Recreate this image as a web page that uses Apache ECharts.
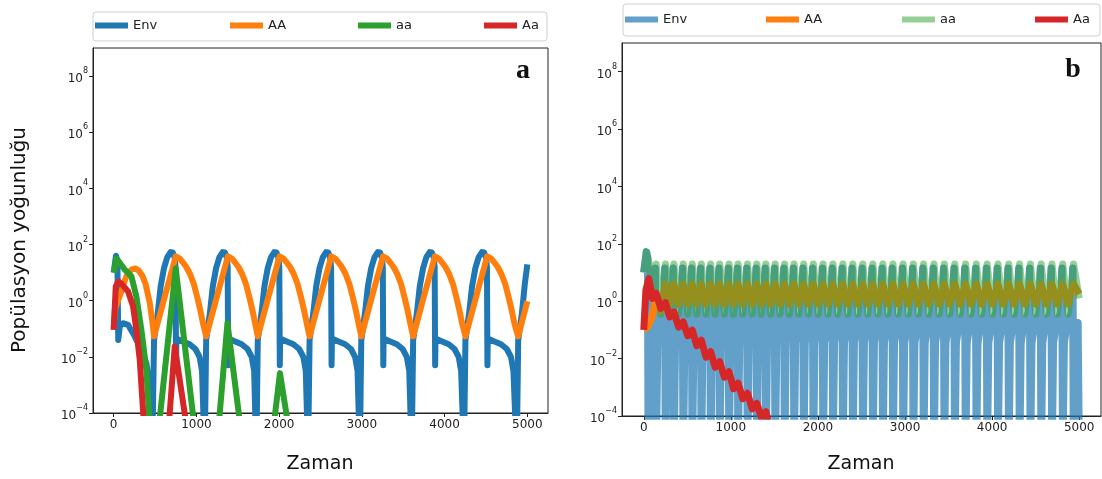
<!DOCTYPE html>
<html><head><meta charset="utf-8">
<script src="https://cdn.jsdelivr.net/npm/echarts@6/dist/echarts.min.js"></script>
<style>html,body{margin:0;padding:0;background:#fff}#c{width:1102px;height:479px}</style>
</head><body><div id="c"></div>
<script>
// ---------- labels / ticks ----------
const seriesNames = ['Env', 'AA', 'aa', 'Aa'];
const xTickValues = [0, 1000, 2000, 3000, 4000, 5000];
const yTickExponents = [-4, -2, 0, 2, 4, 6, 8];
const xTitle = 'Zaman';
const yTitle = 'Popülasyon yoğunluğu';
const panelLetters = ['a', 'b'];

// ---------- panel a : [time, log10(density)] ----------
const envA_log10 = [[0,1.0],[28,1.6],[45,1.4],[55,-1.4],[75,-0.9],[113,-0.8],[173,-0.86],[254,-1.27],[335,-1.75],[395,-2.23],[436,-3.06],[466,-5.5],
[488,-1.4],[513,-0.85],[533,-0.44],[568,0.51],[608,1.16],[648,1.55],[688,1.73],[713,1.72],[736,1.55],[748,1.2],[754,-2.3],[758,-1.35],[838,-1.45],[918,-1.55],[988,-1.72],[1038,-2.0],[1068,-2.5],[1100,-5.5],
[1118,-1.4],[1143,-0.85],[1163,-0.44],[1198,0.51],[1238,1.16],[1278,1.55],[1318,1.73],[1343,1.72],[1366,1.55],[1378,1.2],[1384,-2.3],[1388,-1.35],[1468,-1.45],[1548,-1.55],[1618,-1.72],[1668,-2.0],[1698,-2.5],[1724,-5.5],
[1742,-1.4],[1767,-0.85],[1787,-0.44],[1822,0.51],[1862,1.16],[1902,1.55],[1942,1.73],[1967,1.72],[1990,1.55],[2002,1.2],[2008,-2.3],[2012,-1.35],[2092,-1.45],[2172,-1.55],[2242,-1.72],[2292,-2.0],[2322,-2.5],[2350,-5.5],
[2368,-1.4],[2393,-0.85],[2413,-0.44],[2448,0.51],[2488,1.16],[2528,1.55],[2568,1.73],[2593,1.72],[2616,1.55],[2628,1.2],[2634,-2.3],[2638,-1.35],[2718,-1.45],[2798,-1.55],[2868,-1.72],[2918,-2.0],[2948,-2.5],[2975,-5.5],
[2993,-1.4],[3018,-0.85],[3038,-0.44],[3073,0.51],[3113,1.16],[3153,1.55],[3193,1.73],[3218,1.72],[3241,1.55],[3253,1.2],[3259,-2.3],[3263,-1.35],[3343,-1.45],[3423,-1.55],[3493,-1.72],[3543,-2.0],[3573,-2.5],[3602,-5.5],
[3620,-1.4],[3645,-0.85],[3665,-0.44],[3700,0.51],[3740,1.16],[3780,1.55],[3820,1.73],[3845,1.72],[3868,1.55],[3880,1.2],[3886,-2.3],[3890,-1.35],[3970,-1.45],[4050,-1.55],[4120,-1.72],[4170,-2.0],[4200,-2.5],[4234,-5.5],
[4252,-1.4],[4277,-0.85],[4297,-0.44],[4332,0.51],[4372,1.16],[4412,1.55],[4452,1.73],[4477,1.72],[4500,1.55],[4512,1.2],[4518,-2.3],[4522,-1.35],[4602,-1.45],[4682,-1.55],[4752,-1.72],[4802,-2.0],[4832,-2.5],[4872,-5.5],
[4890,-1.4],[4915,-0.85],[4935,-0.44],[4970,0.6],[5000,1.29]];

const AA_A_log10 = [[0,-1.0],[15,-0.3],[93,0.33],[150,0.85],[214,1.11],[260,1.15],[300,1.08],[345,0.9],[385,0.6],[436,-0.08],[470,-0.8],
[488,-1.27],[618,0.15],[751,1.58],[773,1.56],[798,1.5],[833,1.38],[878,1.2],[923,0.95],[968,0.6],[1008,0.15],[1048,-0.35],[1083,-0.85],
[1118,-1.27],[1248,0.15],[1381,1.58],[1403,1.56],[1428,1.5],[1463,1.38],[1508,1.2],[1553,0.95],[1598,0.6],[1638,0.15],[1678,-0.35],[1713,-0.85],
[1742,-1.27],[1872,0.15],[2005,1.58],[2027,1.56],[2052,1.5],[2087,1.38],[2132,1.2],[2177,0.95],[2222,0.6],[2262,0.15],[2302,-0.35],[2337,-0.85],
[2368,-1.27],[2498,0.15],[2631,1.58],[2653,1.56],[2678,1.5],[2713,1.38],[2758,1.2],[2803,0.95],[2848,0.6],[2888,0.15],[2928,-0.35],[2963,-0.85],
[2993,-1.27],[3123,0.15],[3256,1.58],[3278,1.56],[3303,1.5],[3338,1.38],[3383,1.2],[3428,0.95],[3473,0.6],[3513,0.15],[3553,-0.35],[3588,-0.85],
[3620,-1.27],[3750,0.15],[3883,1.58],[3905,1.56],[3930,1.5],[3965,1.38],[4010,1.2],[4055,0.95],[4100,0.6],[4140,0.15],[4180,-0.35],[4215,-0.85],
[4252,-1.27],[4382,0.15],[4515,1.58],[4537,1.56],[4562,1.5],[4597,1.38],[4642,1.2],[4687,0.95],[4732,0.6],[4772,0.15],[4812,-0.35],[4847,-0.85],
[4890,-1.27],[5000,-0.02]];

const aa_A_log10 = [[0,1.0],[35,1.5],[60,1.4],[133,1.11],[214,0.87],[274,0.15],[335,-1.04],[395,-2.46],[440,-4.6],
[542,-4.6],[750,1.15],[980,-4.6],[1265,-4.6],[1375,-0.8],[1537,-4.6],[1928,-4.6],[2010,-2.58],[2118,-4.6]];

const Aa_A_log10 = [[0,-1.04],[25,0.5],[55,0.68],[95,0.6],[174,0.33],[234,-0.2],[274,-1.04],[315,-2.11],[370,-4.6],
[662,-4.6],[738,-1.63],[888,-4.6]];

// ---------- panel b ----------
const envB_log10 = [[0,1.0],[30,1.72],[45,1.5],[52,-5.5],[68,-1.45],[95,-0.75],[118,-0.4],[131,1.15],
[142,-5.5],[158,-1.45],[192,-0.75],[228,-0.4],[241,1.15],
[250,-5.5],[266,-1.45],[300,-0.75],[324,-0.4],[337,1.15],
[346,-5.5],[362,-1.45],[396,-0.75],[431,-0.4],[444,1.15],
[453,-5.5],[469,-1.45],[503,-0.75],[535,-0.4],[548,1.15],
[557,-5.5],[573,-1.45],[607,-0.75],[639,-0.4],[652,1.15],
[661,-5.5],[677,-1.45],[711,-0.75],[746,-0.4],[759,1.15],
[768,-5.5],[784,-1.45],[818,-0.75],[850,-0.4],[863,1.15],
[872,-5.5],[888,-1.45],[922,-0.75],[957,-0.4],[970,1.15],
[979,-5.5],[995,-1.45],[1029,-0.75],[1061,-0.4],[1074,1.15],
[1083,-5.5],[1099,-1.45],[1133,-0.75],[1169,-0.4],[1182,1.15],
[1191,-5.5],[1207,-1.45],[1241,-0.75],[1276,-0.4],[1289,1.15],
[1298,-5.5],[1314,-1.45],[1348,-0.75],[1380,-0.4],[1393,1.15],
[1402,-5.5],[1418,-1.45],[1452,-0.75],[1487,-0.4],[1500,1.15],
[1509,-5.5],[1525,-1.45],[1559,-0.75],[1595,-0.4],[1608,1.15],
[1617,-5.5],[1633,-1.45],[1667,-0.75],[1704,-0.4],[1717,1.15],
[1726,-5.5],[1742,-1.45],[1776,-0.75],[1814,-0.4],[1827,1.15],
[1836,-5.5],[1852,-1.45],[1886,-0.75],[1925,-0.4],[1938,1.15],
[1947,-5.5],[1963,-1.45],[1997,-0.75],[2037,-0.4],[2050,1.15],
[2059,-5.5],[2075,-1.45],[2109,-0.75],[2150,-0.4],[2163,1.15],
[2172,-5.5],[2188,-1.45],[2222,-0.75],[2264,-0.4],[2277,1.15],
[2286,-5.5],[2302,-1.45],[2336,-0.75],[2378,-0.4],[2391,1.15],
[2400,-5.5],[2416,-1.45],[2450,-0.75],[2493,-0.4],[2506,1.15],
[2515,-5.5],[2531,-1.45],[2565,-0.75],[2608,-0.4],[2621,1.15],
[2630,-5.5],[2646,-1.45],[2680,-0.75],[2723,-0.4],[2736,1.15],
[2745,-5.5],[2761,-1.45],[2795,-0.75],[2839,-0.4],[2852,1.15],
[2861,-5.5],[2877,-1.45],[2911,-0.75],[2956,-0.4],[2969,1.15],
[2978,-5.5],[2994,-1.45],[3028,-0.75],[3073,-0.4],[3086,1.15],
[3095,-5.5],[3111,-1.45],[3145,-0.75],[3191,-0.4],[3204,1.15],
[3213,-5.5],[3229,-1.45],[3263,-0.75],[3310,-0.4],[3323,1.15],
[3332,-5.5],[3348,-1.45],[3382,-0.75],[3429,-0.4],[3442,1.15],
[3451,-5.5],[3467,-1.45],[3501,-0.75],[3549,-0.4],[3562,1.15],
[3571,-5.5],[3587,-1.45],[3621,-0.75],[3673,-0.4],[3686,1.15],
[3695,-5.5],[3711,-1.45],[3745,-0.75],[3797,-0.4],[3810,1.15],
[3819,-5.5],[3835,-1.45],[3869,-0.75],[3921,-0.4],[3934,1.15],
[3943,-5.5],[3959,-1.45],[3993,-0.75],[4045,-0.4],[4058,1.15],
[4067,-5.5],[4083,-1.45],[4117,-0.75],[4169,-0.4],[4182,1.15],
[4191,-5.5],[4207,-1.45],[4241,-0.75],[4293,-0.4],[4306,1.15],
[4315,-5.5],[4331,-1.45],[4365,-0.75],[4417,-0.4],[4430,1.15],
[4439,-5.5],[4455,-1.45],[4489,-0.75],[4541,-0.4],[4554,1.15],
[4563,-5.5],[4579,-1.45],[4613,-0.75],[4665,-0.4],[4678,1.15],
[4687,-5.5],[4703,-1.45],[4737,-0.75],[4789,-0.4],[4802,1.15],
[4811,-5.5],[4827,-1.45],[4861,-0.75],[4913,-0.4],[4926,1.15],
[4935,-5.5],[4951,-1.45],[4985,-0.75],[5000,-5.5]];

const AA_B_log10 = [[0,-1.0],[45,-0.9],[95,-0.55],[142,0.1],[196,-0.35],[250,0.6],
[298,-0.1],[346,0.6],[400,-0.1],[453,0.6],[505,-0.1],[557,0.6],[609,-0.1],[661,0.6],[715,-0.1],[768,0.6],
[820,-0.1],[872,0.6],[926,-0.1],[979,0.6],[1031,-0.1],[1083,0.6],[1137,-0.1],[1191,0.6],[1245,-0.1],[1298,0.6],
[1350,-0.1],[1402,0.6],[1456,-0.1],[1509,0.6],[1563,-0.1],[1617,0.6],[1672,-0.1],[1726,0.6],[1781,-0.1],[1836,0.6],
[1892,-0.1],[1947,0.6],[2003,-0.1],[2059,0.6],[2116,-0.1],[2172,0.6],[2229,-0.1],[2286,0.6],[2343,-0.1],[2400,0.6],
[2458,-0.1],[2515,0.6],[2573,-0.1],[2630,0.6],[2688,-0.1],[2745,0.6],[2803,-0.1],[2861,0.6],[2920,-0.1],[2978,0.6],
[3037,-0.1],[3095,0.6],[3154,-0.1],[3213,0.6],[3273,-0.1],[3332,0.6],[3392,-0.1],[3451,0.6],[3511,-0.1],[3571,0.6],
[3633,-0.1],[3695,0.6],[3757,-0.1],[3819,0.6],[3881,-0.1],[3943,0.6],[4005,-0.1],[4067,0.6],[4129,-0.1],[4191,0.6],
[4253,-0.1],[4315,0.6],[4377,-0.1],[4439,0.6],[4501,-0.1],[4563,0.6],[4625,-0.1],[4687,0.6],[4749,-0.1],[4811,0.6],
[4873,-0.1],[4935,0.6],[5000,0.25]];

const aa_B_log10 = [[0,1.0],[30,1.72],[60,1.35],[95,0.4],[142,1.3],
[196,-0.45],[250,1.3],[298,-0.45],[346,1.3],[400,-0.45],[453,1.3],[505,-0.45],[557,1.3],[609,-0.45],[661,1.3],
[715,-0.45],[768,1.3],[820,-0.45],[872,1.3],[926,-0.45],[979,1.3],[1031,-0.45],[1083,1.3],[1137,-0.45],[1191,1.3],
[1245,-0.45],[1298,1.3],[1350,-0.45],[1402,1.3],[1456,-0.45],[1509,1.3],[1563,-0.45],[1617,1.3],[1672,-0.45],[1726,1.3],
[1781,-0.45],[1836,1.3],[1892,-0.45],[1947,1.3],[2003,-0.45],[2059,1.3],[2116,-0.45],[2172,1.3],[2229,-0.45],[2286,1.3],
[2343,-0.45],[2400,1.3],[2458,-0.45],[2515,1.3],[2573,-0.45],[2630,1.3],[2688,-0.45],[2745,1.3],[2803,-0.45],[2861,1.3],
[2920,-0.45],[2978,1.3],[3037,-0.45],[3095,1.3],[3154,-0.45],[3213,1.3],[3273,-0.45],[3332,1.3],[3392,-0.45],[3451,1.3],
[3511,-0.45],[3571,1.3],[3633,-0.45],[3695,1.3],[3757,-0.45],[3819,1.3],[3881,-0.45],[3943,1.3],[4005,-0.45],[4067,1.3],
[4129,-0.45],[4191,1.3],[4253,-0.45],[4315,1.3],[4377,-0.45],[4439,1.3],[4501,-0.45],[4563,1.3],[4625,-0.45],[4687,1.3],
[4749,-0.45],[4811,1.3],[4873,-0.45],[4935,1.3],[5000,0.1]];

const Aa_B_log10 = [[0,-1.0],[25,0.4],[58,0.79],[100,0.1],[142,0.28],[196,-0.25],[250,-0.05],[298,-0.55],[346,-0.37],
[400,-0.9],[453,-0.72],[505,-1.2],[557,-1.01],[609,-1.55],[661,-1.36],[715,-1.95],[768,-1.76],[820,-2.3],[872,-2.11],
[926,-2.65],[979,-2.46],[1031,-3.05],[1083,-2.86],[1137,-3.4],[1191,-3.21],[1245,-3.75],[1298,-3.56],[1350,-4.05],
[1402,-3.85],[1460,-4.6]];

// ---------- styling ----------
const colorsA = ['#1f77b4', '#ff7f0e', '#2ca02c', '#d62728'];
const colorsB = ['rgba(31,119,180,0.7)', '#ff7f0e', 'rgba(44,160,44,0.5)', '#d62728'];
const widthsB = [7.5, 7, 7, 7];
const FONT = '"DejaVu Sans", "Liberation Sans", sans-serif';
const AXC = '#222';

const grids = [
  { left: 93, top: 48, width: 455, height: 365 },
  { left: 622, top: 43, width: 479, height: 373 }
];

function supLabel(v) {
  const e = v < 0 ? '\u2212' + (-v) : String(v);
  return '{b|10}{e|' + e + '}';
}

function xAxisFor(i) {
  return {
    type: 'value', gridIndex: i, min: -250, max: 5250,
    splitLine: { show: false },
    axisLine: { show: true, onZero: false, lineStyle: { color: AXC, width: 1 } },
    axisTick: { show: true, length: 4, lineStyle: { color: AXC }, customValues: xTickValues },
    axisLabel: { customValues: xTickValues, color: AXC, fontSize: 12, fontFamily: FONT, margin: 6,
      formatter: v => String(v) }
  };
}
function yAxisFor(i) {
  return {
    type: 'value', gridIndex: i, min: -4, max: 9,
    splitLine: { show: false },
    axisLine: { show: true, onZero: false, lineStyle: { color: AXC, width: 1 } },
    axisTick: { show: true, length: 4, lineStyle: { color: AXC }, customValues: yTickExponents },
    axisLabel: {
      customValues: yTickExponents, margin: 5, color: AXC,
      formatter: v => (yTickExponents.indexOf(v) >= 0 ? supLabel(v) : ''),
      rich: {
        b: { fontSize: 12, fontFamily: FONT, color: AXC, lineHeight: 18, verticalAlign: 'bottom' },
        e: { fontSize: 8, fontFamily: FONT, color: AXC, lineHeight: 9, verticalAlign: 'top' }
      }
    }
  };
}

const dataA = [envA_log10, AA_A_log10, aa_A_log10, Aa_A_log10];
const dataB = [envB_log10, AA_B_log10, aa_B_log10, Aa_B_log10];

const series = [];
seriesNames.forEach((n, k) => {
  series.push({
    name: n, type: 'line', xAxisIndex: 0, yAxisIndex: 0, data: dataA[k],
    showSymbol: false, symbol: 'none', clip: true, silent: true,
    color: colorsA[k],
    lineStyle: { width: 6, color: colorsA[k], join: 'round', cap: 'butt' }
  });
});
seriesNames.forEach((n, k) => {
  series.push({
    name: n + '\u00b7b', type: 'line', xAxisIndex: 1, yAxisIndex: 1, data: dataB[k],
    showSymbol: false, symbol: 'none', clip: true, silent: true,
    color: colorsB[k],
    lineStyle: { width: widthsB[k], color: colorsB[k], join: 'round', cap: 'butt' }
  });
});

const legendLeftA = [95, 230, 358, 484];
const legendLeftB = [625, 766, 902, 1035];
const legends = [];
seriesNames.forEach((n, k) => {
  legends.push({ data: [{ name: n, icon: 'rect' }], left: legendLeftA[k], top: 19, padding: 0,
    itemWidth: 33, itemHeight: 6, selectedMode: false,
    textStyle: { fontSize: 13, fontFamily: FONT, color: AXC } });
  legends.push({ data: [{ name: n + '\u00b7b', icon: 'rect' }], left: legendLeftB[k], top: 13, padding: 0,
    itemWidth: 33, itemHeight: 6, selectedMode: false,
    formatter: s => s.split('\u00b7')[0],
    textStyle: { fontSize: 13, fontFamily: FONT, color: AXC } });
});

const option = {
  animation: false,
  backgroundColor: '#fff',
  grid: grids.map(g => Object.assign({ show: true, borderColor: AXC, borderWidth: 1, backgroundColor: 'transparent' }, g)),
  xAxis: [xAxisFor(0), xAxisFor(1)],
  yAxis: [yAxisFor(0), yAxisFor(1)],
  legend: legends,
  graphic: [
    { type: 'rect', z: -10, shape: { x: 93, y: 12, width: 454, height: 29, r: 3 }, style: { fill: '#fff', stroke: '#d0d0d0', lineWidth: 1 } },
    { type: 'rect', z: -10, shape: { x: 623, y: 4, width: 477, height: 32, r: 3 }, style: { fill: '#fff', stroke: '#d0d0d0', lineWidth: 1 } },
    { type: 'text', x: 20, y: 240, rotation: Math.PI / 2, style: { text: yTitle, font: '20px ' + FONT, fill: '#111', align: 'center', verticalAlign: 'middle' } },
    { type: 'text', x: 320, y: 464, style: { text: xTitle, font: '19px ' + FONT, fill: '#111', align: 'center', verticalAlign: 'middle' } },
    { type: 'text', x: 861, y: 464, style: { text: xTitle, font: '19px ' + FONT, fill: '#111', align: 'center', verticalAlign: 'middle' } },
    { type: 'text', x: 523, y: 71, style: { text: panelLetters[0], font: 'bold 28px "Liberation Serif", "DejaVu Serif", serif', fill: '#111', align: 'center', verticalAlign: 'middle' } },
    { type: 'text', x: 1073, y: 70, style: { text: panelLetters[1], font: 'bold 28px "Liberation Serif", "DejaVu Serif", serif', fill: '#111', align: 'center', verticalAlign: 'middle' } }
  ],
  series: series
};

const chart = echarts.init(document.getElementById('c'), null, { renderer: 'canvas' });
chart.setOption(option);
</script>
</body></html>
